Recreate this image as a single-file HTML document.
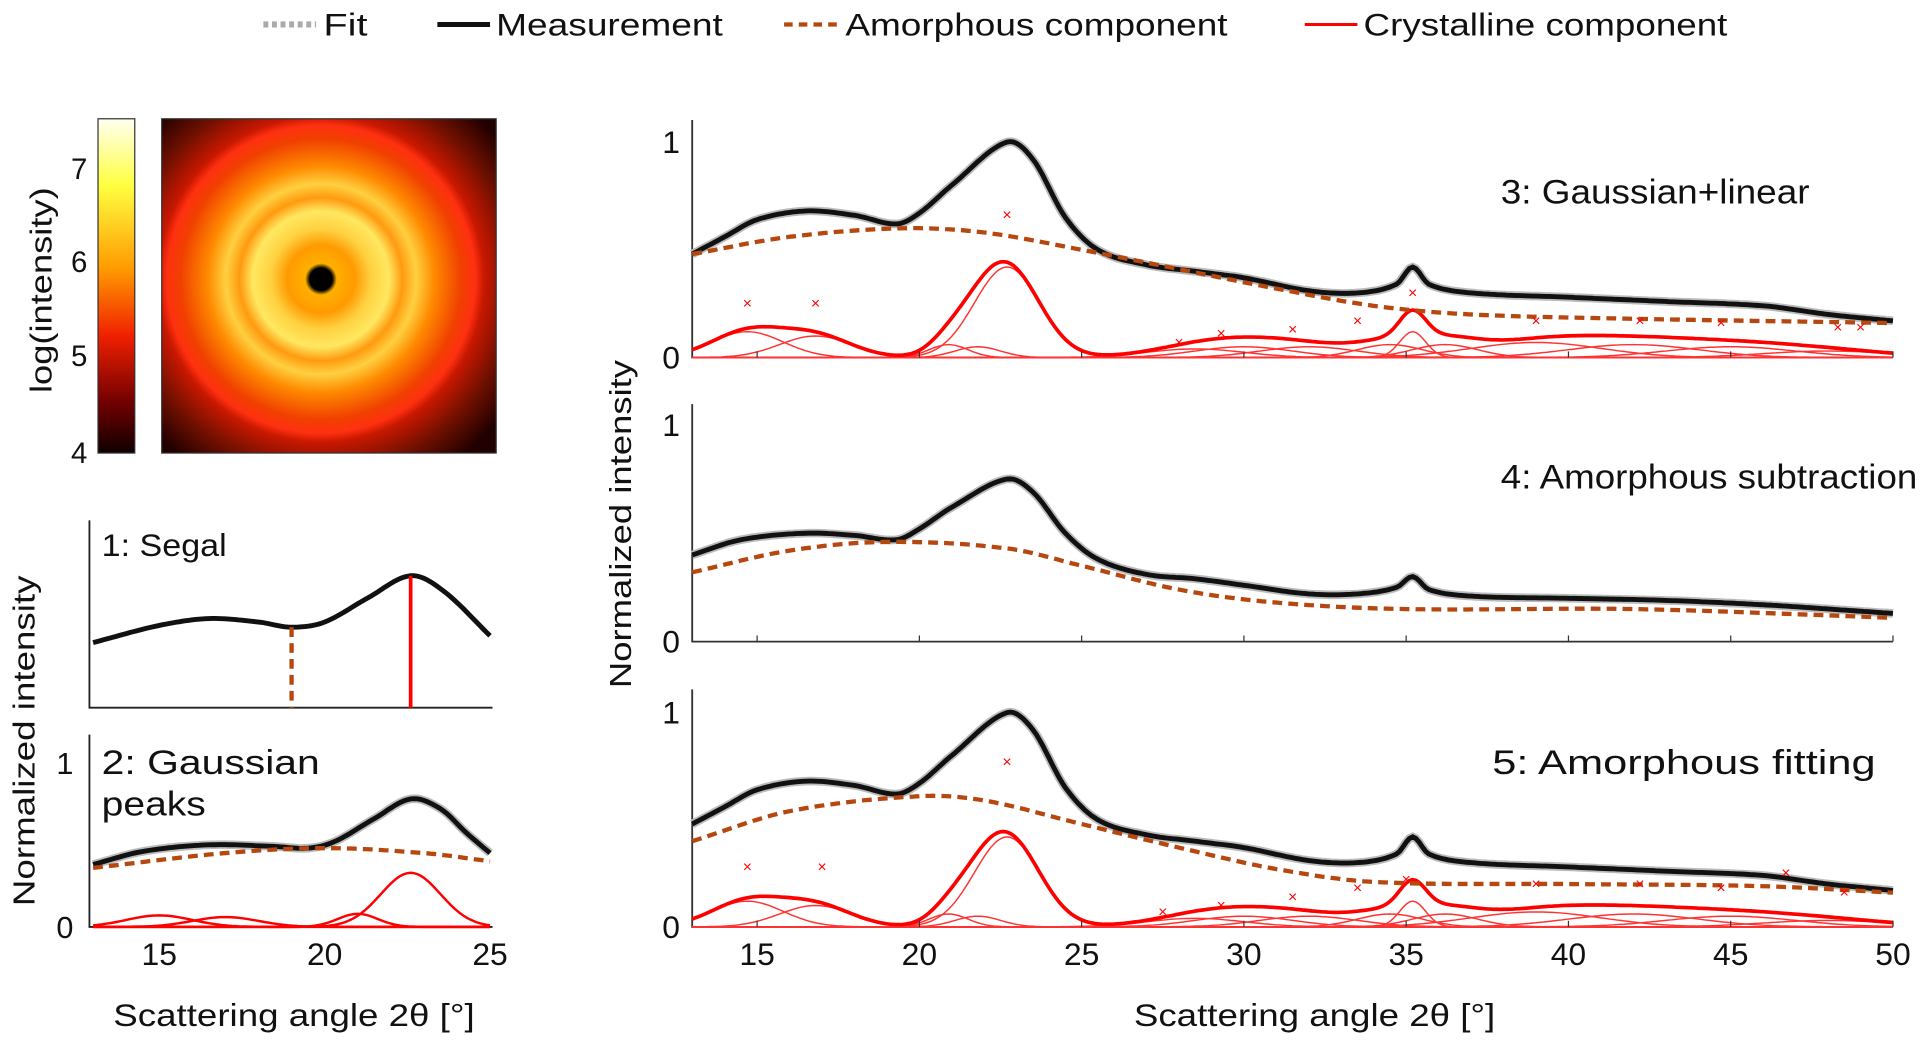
<!DOCTYPE html>
<html><head><meta charset="utf-8"><style>
html,body{margin:0;padding:0;background:#fff;width:1921px;height:1042px;overflow:hidden}
svg{display:block}
text{font-family:"Liberation Sans","DejaVu Sans",sans-serif;fill:#111}
</style></head><body>
<svg id="s" width="1921" height="1042" viewBox="0 0 1568 851" preserveAspectRatio="none" xmlns="http://www.w3.org/2000/svg">
<defs>
<radialGradient id="rg" cx="262" cy="228" r="185" gradientUnits="userSpaceOnUse">
<stop offset="0" stop-color="#000"/>
<stop offset="0.05" stop-color="#000"/>
<stop offset="0.07" stop-color="#ffb000"/>
<stop offset="0.15" stop-color="#ff9a00"/>
<stop offset="0.22" stop-color="#ffd040"/>
<stop offset="0.3" stop-color="#ffe860"/>
<stop offset="0.36" stop-color="#ff9a10"/>
<stop offset="0.42" stop-color="#ffd040"/>
<stop offset="0.5" stop-color="#ff8a00"/>
<stop offset="0.62" stop-color="#f04000"/>
<stop offset="0.68" stop-color="#ff3010"/>
<stop offset="0.72" stop-color="#c81800"/>
<stop offset="0.85" stop-color="#701000"/>
<stop offset="1" stop-color="#200000"/>
</radialGradient>
<linearGradient id="cb" x1="0" y1="0" x2="0" y2="1">
<stop offset="0" stop-color="#fffff0"/>
<stop offset="0.2" stop-color="#ffff40"/>
<stop offset="0.45" stop-color="#ff9a00"/>
<stop offset="0.65" stop-color="#f02000"/>
<stop offset="0.85" stop-color="#700000"/>
<stop offset="1" stop-color="#100000"/>
</linearGradient>
</defs>
<!-- legend -->
<line x1="215" y1="20" x2="258" y2="20" stroke="#aaa" stroke-width="5" stroke-dasharray="4,3"/>
<text x="264" y="29" font-size="26" textLength="36" lengthAdjust="spacingAndGlyphs">Fit</text>
<line x1="357" y1="20" x2="400" y2="20" stroke="#111" stroke-width="4"/>
<text x="405" y="29" font-size="26" textLength="185" lengthAdjust="spacingAndGlyphs">Measurement</text>
<line x1="640" y1="20" x2="686" y2="20" stroke="#b5470f" stroke-width="3.5" stroke-dasharray="7,5"/>
<text x="690" y="29" font-size="26" textLength="312" lengthAdjust="spacingAndGlyphs">Amorphous component</text>
<line x1="1065" y1="20" x2="1108" y2="20" stroke="#f00" stroke-width="2.5"/>
<text x="1113" y="29" font-size="26" textLength="297" lengthAdjust="spacingAndGlyphs">Crystalline component</text>
<!-- colorbar & image -->
<rect x="80" y="97" width="30" height="273" fill="url(#cb)" stroke="#333"/>
<rect x="132" y="97" width="273" height="273" fill="url(#rg)" stroke="#333"/>
<circle cx="262" cy="228" r="8" fill="#000"/>
<text x="58" y="146" font-size="24">7</text>
<text x="58" y="222" font-size="24">6</text>
<text x="58" y="299" font-size="24">5</text>
<text x="58" y="378" font-size="24">4</text>
<text transform="translate(42,237) rotate(-90)" font-size="25" text-anchor="middle" textLength="168" lengthAdjust="spacingAndGlyphs">log(intensity)</text>
<!-- left labels -->
<text transform="translate(28,605) rotate(-90)" font-size="25" text-anchor="middle" textLength="270" lengthAdjust="spacingAndGlyphs">Normalized intensity</text>
<text transform="translate(515,428) rotate(-90)" font-size="25" text-anchor="middle" textLength="268" lengthAdjust="spacingAndGlyphs">Normalized intensity</text>
<!-- panel 1 -->
<polyline points="73,425 73,578 402,578" fill="none" stroke="#222" stroke-width="1.5"/>
<text x="83" y="454" font-size="26" textLength="102" lengthAdjust="spacingAndGlyphs">1: Segal</text>
<!-- panel 2 -->
<polyline points="73,600 73,757 402,757" fill="none" stroke="#222" stroke-width="1.5"/>
<text x="46" y="632" font-size="25">1</text>
<text x="46" y="766" font-size="25">0</text>
<text x="83" y="632" font-size="28" textLength="178" lengthAdjust="spacingAndGlyphs">2: Gaussian</text>
<text x="83" y="666" font-size="28" textLength="85" lengthAdjust="spacingAndGlyphs">peaks</text>
<text x="130" y="788" font-size="26" text-anchor="middle">15</text>
<text x="265" y="788" font-size="26" text-anchor="middle">20</text>
<text x="400" y="788" font-size="26" text-anchor="middle">25</text>
<text x="240" y="838" font-size="26" text-anchor="middle" textLength="295" lengthAdjust="spacingAndGlyphs">Scattering angle 2θ [°]</text>
<!-- right panels axes -->
<g stroke="#333" stroke-width="1.5" fill="none">
<polyline points="565,98 565,292 1545,292"/>
<polyline points="565,330 565,524 1545,524"/>
<polyline points="565,563 565,757 1545,757"/>
</g>
<g font-size="26" text-anchor="end">
<text x="555" y="125">1</text><text x="555" y="301">0</text>
<text x="555" y="356">1</text><text x="555" y="533">0</text>
<text x="555" y="591">1</text><text x="555" y="766">0</text>
</g>
<g font-size="26" text-anchor="middle" id="xt"></g>
<text x="1073" y="838" font-size="26" text-anchor="middle" textLength="295" lengthAdjust="spacingAndGlyphs">Scattering angle 2θ [°]</text>
<text x="1225" y="166" font-size="28" textLength="252" lengthAdjust="spacingAndGlyphs">3: Gaussian+linear</text>
<text x="1225" y="399" font-size="28" textLength="340" lengthAdjust="spacingAndGlyphs">4: Amorphous subtraction</text>
<text x="1218" y="632" font-size="28" textLength="313" lengthAdjust="spacingAndGlyphs">5: Amorphous fitting</text>
<g id="plots"></g>
</svg>
<script>
var NS="http://www.w3.org/2000/svg";
var P=document.getElementById('plots');
function el(t,a){var e=document.createElementNS(NS,t);for(var k in a)e.setAttribute(k,a[k]);P.appendChild(e);return e;}
function interp(pts,t){if(t<=pts[0][0])return pts[0][1];for(var i=0;i<pts.length-1;i++){var a=pts[i],b=pts[i+1];if(t<=b[0]){var p0=pts[Math.max(0,i-1)],p3=pts[Math.min(pts.length-1,i+2)];var u=(t-a[0])/(b[0]-a[0]);var m1=(b[1]-p0[1])/(b[0]-p0[0])*(b[0]-a[0]),m2=(p3[1]-a[1])/(p3[0]-a[0])*(b[0]-a[0]);var u2=u*u,u3=u2*u;return (2*u3-3*u2+1)*a[1]+(u3-2*u2+u)*m1+(-2*u3+3*u2)*b[1]+(u3-u2)*m2;}}return pts[pts.length-1][1];}
function path(f,t0,t1,X,Y){var d="";for(var t=t0;t<=t1+1e-9;t+=0.1){d+=(d?"L":"M")+X(t).toFixed(1)+","+Y(f(t)).toFixed(1);}return d;}
function g(t,c,h,w){return h*Math.exp(-0.5*Math.pow((t-c)/w,2));}
var meas=[[13,0.48],[14,0.56],[15,0.64],[16.5,0.68],[18,0.66],[19.3,0.62],[20,0.67],[21,0.8],[22.7,1.0],[23.5,0.92],[24.5,0.65],[25.5,0.5],[27,0.43],[28.5,0.4],[30,0.37],[32,0.31],[33.5,0.3],[34.7,0.34],[35.2,0.42],[35.7,0.34],[37,0.3],[40,0.28],[43,0.26],[46,0.24],[48,0.2],[50,0.17]];
var meas4=[[13,0.4],[14.5,0.47],[16.5,0.5],[18,0.49],[19.3,0.47],[20,0.52],[21,0.62],[22.7,0.75],[23.5,0.69],[24.5,0.5],[25.5,0.38],[27,0.31],[28.5,0.29],[30,0.26],[32,0.22],[33.5,0.22],[34.7,0.25],[35.2,0.3],[35.7,0.24],[37,0.21],[40,0.2],[43,0.19],[46,0.17],[50,0.13]];
var am3=[[13,0.48],[16,0.56],[19.5,0.6],[22,0.58],[25,0.5],[28,0.41],[31,0.32],[34,0.24],[37,0.2],[42,0.18],[50,0.16]];
var am4=[[13,0.32],[16,0.42],[19,0.46],[22.7,0.43],[25,0.35],[28,0.24],[31,0.18],[35,0.15],[42,0.15],[50,0.11]];
var am5=[[13,0.4],[16,0.54],[20,0.61],[22,0.59],[25,0.48],[28,0.37],[31,0.27],[34,0.21],[40,0.2],[46,0.19],[50,0.16]];
var peaks=[[14.7,0.12,1.1],[16.8,0.1,1.1],[20.9,0.06,0.6],[21.8,0.05,0.7],[22.7,0.42,1.0],[28.5,0.04,1.5],[30,0.05,1.5],[32,0.05,1.5],[34.5,0.06,1.0],[35.2,0.12,0.4],[36.2,0.06,1.0],[39,0.07,2],[42,0.06,2],[45,0.05,2],[48,0.03,2]];
function cryst(t){var s=0;peaks.forEach(function(p){s+=g(t,p[0],p[1],p[2]);});return s;}
function panel(X,Y,m,am,cr,x0,x1,marks){
 if(cr){peaks.forEach(function(p){if(p[0]>=x0&&p[0]<=x1)el('path',{d:path(function(t){return g(t,p[0],p[1],p[2]);},x0,x1,X,Y),fill:'none',stroke:'#f33','stroke-width':1.2});});
 el('path',{d:path(cr,x0,x1,X,Y),fill:'none',stroke:'#f00','stroke-width':3});}
 el('path',{d:path(function(t){return interp(m,t);},x0,x1,X,Y),fill:'none',stroke:'#bbb','stroke-width':7});
 el('path',{d:path(function(t){return interp(m,t);},x0,x1,X,Y),fill:'none',stroke:'#111','stroke-width':4});
 el('path',{d:path(function(t){return interp(am,t);},x0,x1,X,Y),fill:'none',stroke:'#b5470f','stroke-width':3.5,'stroke-dasharray':'8,5'});
 if(marks)marks.forEach(function(k){var t=el('text',{x:X(k[0]),y:Y(k[1])+4,'font-size':13,'text-anchor':'middle',style:'fill:#f00'});t.textContent='×';});
}
var XR=function(t){return 565+(t-13)*26.49;};
var mk=[[14.7,0.25],[16.8,0.25],[22.7,0.66],[28,0.07],[29.3,0.11],[31.5,0.13],[33.5,0.17],[35.2,0.3],[39,0.17],[42.2,0.17],[44.7,0.16],[48.3,0.14],[49,0.14]];
panel(XR,function(v){return 292-v*176;},meas,am3,cryst,13,50,mk);
panel(XR,function(v){return 524-v*177;},meas4,am4,null,13,50,null);
var mk5=[[14.7,0.28],[17,0.28],[22.7,0.77],[27.5,0.07],[29.3,0.1],[31.5,0.14],[33.5,0.18],[35,0.22],[39,0.2],[42.2,0.2],[44.7,0.18],[46.7,0.25],[48.5,0.16]];
panel(XR,function(v){return 757-v*175;},meas,am5,cryst,13,50,mk5);
// left panel 2
var XL=function(t){return 76+(t-13)*27;};
var m2=[[13,0.38],[14.5,0.46],[16.5,0.5],[18.5,0.49],[19.5,0.48],[20.3,0.52],[21.5,0.66],[22.6,0.78],[23.5,0.72],[24.3,0.57],[25,0.45]];
var a2=[[13,0.36],[17,0.45],[20,0.48],[23,0.45],[25,0.4]];
var pk2=[[15,0.07,1],[17,0.06,1],[21,0.08,0.6],[22.6,0.33,0.9]];
pk2.forEach(function(p){el('path',{d:path(function(t){return g(t,p[0],p[1],p[2]);},13,25,XL,function(v){return 757-v*134;}),fill:'none',stroke:'#f00','stroke-width':2});});
panel(XL,function(v){return 757-v*134;},m2,a2,null,13,25,null);
// panel 1
var Y1=function(v){return 578-v*140;};
var m1=[[13,0.38],[15,0.48],[16.5,0.52],[18,0.5],[19,0.47],[20,0.5],[21.3,0.64],[22.6,0.77],[23.6,0.68],[25,0.42]];
el('path',{d:path(function(t){return interp(m1,t);},13,25,XL,Y1),fill:'none',stroke:'#111','stroke-width':4});
el('line',{x1:XL(19),y1:Y1(interp(m1,19)),x2:XL(19),y2:578,stroke:'#b5470f','stroke-width':3.5,'stroke-dasharray':'8,5'});
el('line',{x1:XL(22.6),y1:Y1(interp(m1,22.6)),x2:XL(22.6),y2:578,stroke:'#f00','stroke-width':3});
// ticks
var xt=document.getElementById('xt');
[15,20,25,30,35,40,45,50].forEach(function(v){var t=document.createElementNS(NS,'text');t.setAttribute('x',XR(v));t.setAttribute('y',788);t.textContent=v;xt.appendChild(t);
 [292,524,757].forEach(function(y){el('line',{x1:XR(v),y1:y,x2:XR(v),y2:y-5,stroke:'#333','stroke-width':1});});});
</script>
</body></html>
